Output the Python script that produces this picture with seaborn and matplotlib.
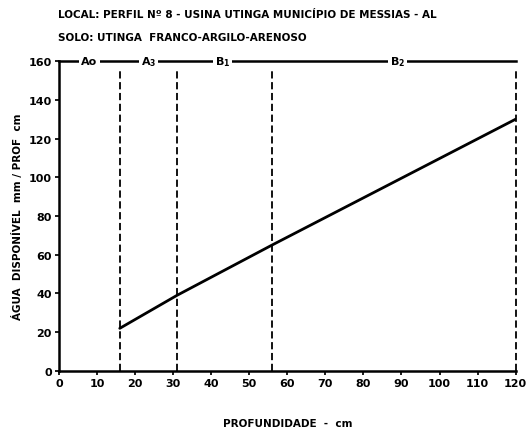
import matplotlib
matplotlib.use("Agg")
import matplotlib.pyplot as plt
import seaborn as sns
import pandas as pd

# --- DATA ---
depth_cm = [16, 31, 56, 120]
water_mm = [22, 39, 65, 130]
horizon_limits = [16, 31, 56, 120]
horizon_names = ["Ao", "A$_3$", "B$_1$", "B$_2$"]
horizon_label_x = [8, 23.5, 43, 89]
x_ticks = [0, 10, 20, 30, 40, 50, 60, 70, 80, 90, 100, 110, 120]
y_ticks = [0, 20, 40, 60, 80, 100, 120, 140, 160]

df = pd.DataFrame({"depth": depth_cm, "water": water_mm})

sns.set_theme(style="white")
plt.rcParams["font.family"] = ["DejaVu Sans"]
plt.rcParams["font.weight"] = "bold"
for key in ["text.color", "axes.labelcolor", "xtick.color", "ytick.color"]:
    plt.rcParams[key] = "black"

fig = plt.figure(figsize=(5.3, 4.31), dpi=100)
ax = fig.add_axes([0.111, 0.137, 0.862, 0.719])

sns.lineplot(data=df, x="depth", y="water", color="black", linewidth=2, ax=ax)

# horizon boundaries
for x in horizon_limits:
    ax.axvline(x, ymax=0.975, color="black", linestyle=(0, (4, 2)), linewidth=1.3,
               clip_on=False)

# horizon names on top border
for x, name in zip(horizon_label_x, horizon_names):
    ax.text(x, 160, name, ha="center", va="center", fontsize=8, fontweight="bold",
            bbox=dict(facecolor="white", edgecolor="none", pad=1.5))

ax.set_xlim(0, 120)
ax.set_ylim(0, 160)
ax.set_xticks(x_ticks)
ax.set_yticks(y_ticks)
ax.tick_params(axis="both", labelsize=8, length=3, pad=2, direction="out",
               color="black", bottom=True, left=True)
for lbl in ax.get_xticklabels() + ax.get_yticklabels():
    lbl.set_fontweight("bold")

for side in ["left", "bottom", "top"]:
    ax.spines[side].set_color("black")
    ax.spines[side].set_linewidth(1.8)
ax.spines["right"].set_visible(False)

ax.set_xlabel("PROFUNDIDADE  -  cm", fontsize=7.5, fontweight="bold", labelpad=22)
ax.set_ylabel("ÁGUA  DISPONÍVEL  mm / PROF  cm", fontsize=7.5, fontweight="bold", labelpad=4)

fig.text(0.11, 0.965, "LOCAL: PERFIL Nº 8 - USINA UTINGA MUNICÍPIO DE MESSIAS - AL",
         fontsize=7.5, fontweight="bold", ha="left", va="center")
fig.text(0.11, 0.912, "SOLO: UTINGA  FRANCO-ARGILO-ARENOSO",
         fontsize=7.5, fontweight="bold", ha="left", va="center")

fig.savefig("out.png", dpi=100, facecolor="white")
